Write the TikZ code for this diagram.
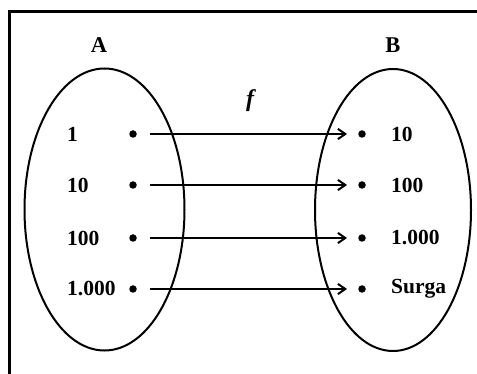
\documentclass[tikz,border=0pt]{standalone}
\usepackage{fontspec}
\setmainfont{Liberation Serif}[BoldItalicFont={Liberation Serif Bold Italic}]
\newfontfamily\fnfont{Liberation Serif Bold Italic}
\usetikzlibrary{arrows.meta,positioning}
\tikzset{
  pt/.style={circle, fill=black, inner sep=0pt, minimum size=7.5pt},
  lab/.style={font=\bfseries\fontsize{21.5}{21.5}\selectfont, inner sep=0pt, anchor=west},
  ttl/.style={font=\bfseries\fontsize{22.5}{22.5}\selectfont, inner sep=0pt},
  set/.style={draw, line width=2pt},
  arr/.style={-{Straight Barb[length=2.6mm,width=3.6mm]}, line width=2pt, shorten <=13pt, shorten >=11pt},
}
\begin{document}
\begin{tikzpicture}[x=1pt, y=-1pt]
  \useasboundingbox (0,0) rectangle (477,374);
  % frame
  \draw[line width=3pt] (9,374) -- (9,12) -- (477,12);
  % the two sets
  \draw[set] (104.5,209.5) ellipse [x radius=80, y radius=141];
  \draw[set] (393,210) ellipse [x radius=78, y radius=141];
  \node[ttl] (sa) at (99,45) {A};
  \node[ttl] (sb) at (393,45) {B};
  \node[inner sep=0pt, font=\fnfont\fontsize{24}{24}\selectfont] (fn) at (250,101) {f};
  % domain
  \node[lab] (l1) at (67,134) {1};
  \node[lab] (l2) at (67,185) {10};
  \node[lab] (l3) at (67,238) {100};
  \node[lab] (l4) at (67,289) {1.000};
  \node[pt] (a1) at (133,134) {};
  \node[pt] (a2) at (133,185) {};
  \node[pt] (a3) at (133,238) {};
  \node[pt] (a4) at (133,289) {};
  % codomain
  \node[pt] (b1) at (362,134) {};
  \node[pt] (b2) at (362,185) {};
  \node[pt] (b3) at (362,238) {};
  \node[pt] (b4) at (362,289) {};
  \node[lab] (r1) at (391,134) {10};
  \node[lab] (r2) at (391,185) {100};
  \node[lab] (r3) at (391,238) {1.000};
  \node[lab] (r4) at (391,289) {Surga};
  \draw[arr] (a1) -- (b1); \draw[arr] (a2) -- (b2);
  \draw[arr] (a3) -- (b3); \draw[arr] (a4) -- (b4);
\end{tikzpicture}
\end{document}
